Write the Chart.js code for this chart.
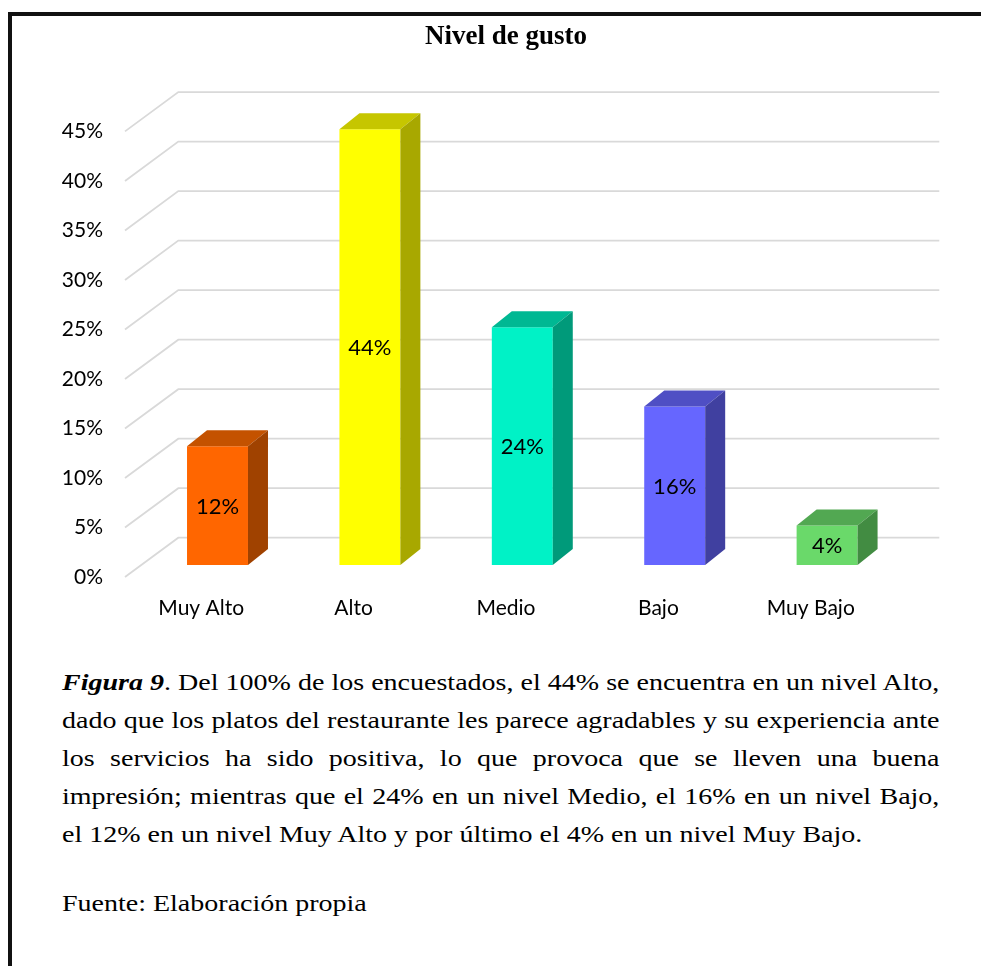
<!DOCTYPE html>
<html>
<head>
<meta charset="utf-8">
<script src="https://cdn.jsdelivr.net/npm/chart.js@4.4.0/dist/chart.umd.min.js"></script>
<style>
  body { margin: 0; background: #fff; width: 981px; height: 966px; overflow: hidden; position: relative; }
  #frame { position: absolute; left: 8px; top: 12px; width: 990px; height: 990px; border-top: 4px solid #111; border-left: 4px solid #111; }
  #myChart { position: absolute; left: 0; top: 0; }
  .cap { position: absolute; left: 62px; width: 752px; font-family: 'Liberation Serif', 'Times New Roman', serif; font-size: 24px; line-height: 38px; color: #000; transform: scaleX(1.1667); transform-origin: 0 0; }
  .j { text-align: justify; text-align-last: justify; }
</style>
</head>
<body>
<div id="frame"></div>
<canvas id="myChart" width="981" height="645"></canvas>
<div class="cap" style="top:663px">
  <div class="j"><b><i>Figura 9</i></b>. Del 100% de los encuestados, el 44% se encuentra en un nivel Alto,</div>
  <div class="j">dado que los platos del restaurante les parece agradables y su experiencia ante</div>
  <div class="j">los servicios ha sido positiva, lo que provoca que se lleven una buena</div>
  <div class="j">impresión; mientras que el 24% en un nivel Medio, el 16% en un nivel Bajo,</div>
  <div>el 12% en un nivel Muy Alto y por último el 4% en un nivel Muy Bajo.</div>
</div>
<div class="cap" style="top:884px">Fuente: Elaboración propia</div>
<script>
// datos del grafico
const categorias = ['Muy Alto', 'Alto', 'Medio', 'Bajo', 'Muy Bajo'];
const valores = [12, 44, 24, 16, 4];
const coloresFrente = ['#FF6600', '#FFFF00', '#00F2C6', '#6666FF', '#6AD96A'];
const coloresArriba = ['#C45200', '#C6C600', '#00B893', '#4F4FC4', '#52A852'];
const coloresLado = ['#A04200', '#A8A800', '#009A7A', '#4040A0', '#428C42'];
const yMax = 45;
const yPaso = 5;

// perspectiva (en px)
const fondoDx = 53.3, fondoDy = -39.3;   // piso/pared del fondo
const barraDx = 16.3, barraDy = -12;     // posicion de las barras
const ladoDx = 20, ladoDy = -16;         // profundidad de cada barra

const fuente = { family: 'Lato', size: 21 };

const rejilla3d = {
  id: 'rejilla3d',
  beforeDatasetsDraw(chart) {
    const ctx = chart.ctx, y = chart.scales.y, area = chart.chartArea;
    ctx.save();
    ctx.strokeStyle = '#d9d9d9';
    ctx.lineWidth = 1.8;
    for (let v = 0; v <= yMax; v += yPaso) {
      const py = y.getPixelForValue(v);
      ctx.beginPath();
      ctx.moveTo(area.left, py);
      ctx.lineTo(area.left + fondoDx, py + fondoDy);
      ctx.lineTo(area.right + fondoDx - 1, py + fondoDy);
      ctx.stroke();
    }
    ctx.restore();
    // las barras se dibujan desplazadas hacia el fondo
    ctx.save();
    ctx.translate(barraDx, barraDy);
  },
  afterDatasetsDraw(chart) {
    const ctx = chart.ctx;
    const meta = chart.getDatasetMeta(0);
    meta.data.forEach((bar, i) => {
      const p = bar.getProps(['x', 'y', 'base', 'width'], true);
      const l = p.x - p.width / 2, r = p.x + p.width / 2;
      // cara superior
      ctx.fillStyle = coloresArriba[i];
      ctx.beginPath();
      ctx.moveTo(l, p.y);
      ctx.lineTo(l + ladoDx, p.y + ladoDy);
      ctx.lineTo(r + ladoDx, p.y + ladoDy);
      ctx.lineTo(r, p.y);
      ctx.closePath();
      ctx.fill();
      // cara lateral
      ctx.fillStyle = coloresLado[i];
      ctx.beginPath();
      ctx.moveTo(r, p.y);
      ctx.lineTo(r + ladoDx, p.y + ladoDy);
      ctx.lineTo(r + ladoDx, p.base + ladoDy);
      ctx.lineTo(r, p.base);
      ctx.closePath();
      ctx.fill();
      // etiqueta
      ctx.fillStyle = '#000';
      ctx.font = '22px Lato';
      ctx.textAlign = 'center';
      ctx.textBaseline = 'middle';
      ctx.fillText(valores[i] + '%', p.x, (p.y + p.base) / 2 + 1);
    });
    ctx.restore();
  }
};

const ctx = document.getElementById('myChart');

new Chart(ctx, {
  type: 'bar',
  data: {
    labels: categorias,
    datasets: [{
      data: valores,
      backgroundColor: coloresFrente,
      borderWidth: 0,
      categoryPercentage: 1,
      barPercentage: 0.4,
      clip: false
    }]
  },
  options: {
    responsive: false,
    animation: false,
    devicePixelRatio: 1,
    layout: { padding: { left: 0, right: 94, top: 0, bottom: 8 } },
    plugins: {
      legend: { display: false },
      tooltip: { enabled: false },
      title: {
        display: true,
        text: 'Nivel de gusto',
        fullSize: false,
        color: '#000',
        font: { family: 'Liberation Serif', size: 27, weight: 'bold' },
        padding: { top: 21, bottom: 78 }
      }
    },
    scales: {
      x: {
        grid: { display: false },
        border: { display: false },
        ticks: { color: '#000', font: fuente, padding: 11, maxRotation: 0 },
        afterFit(s) { s.height = 60; }
      },
      y: {
        min: 0,
        max: yMax,
        grid: { display: false },
        border: { display: false },
        ticks: {
          stepSize: yPaso,
          color: '#000',
          font: fuente,
          padding: 14,
          callback: v => v + '%'
        },
        afterFit(s) { s.width = 125; }
      }
    }
  },
  plugins: [rejilla3d]
});
</script>
</body>
</html>
